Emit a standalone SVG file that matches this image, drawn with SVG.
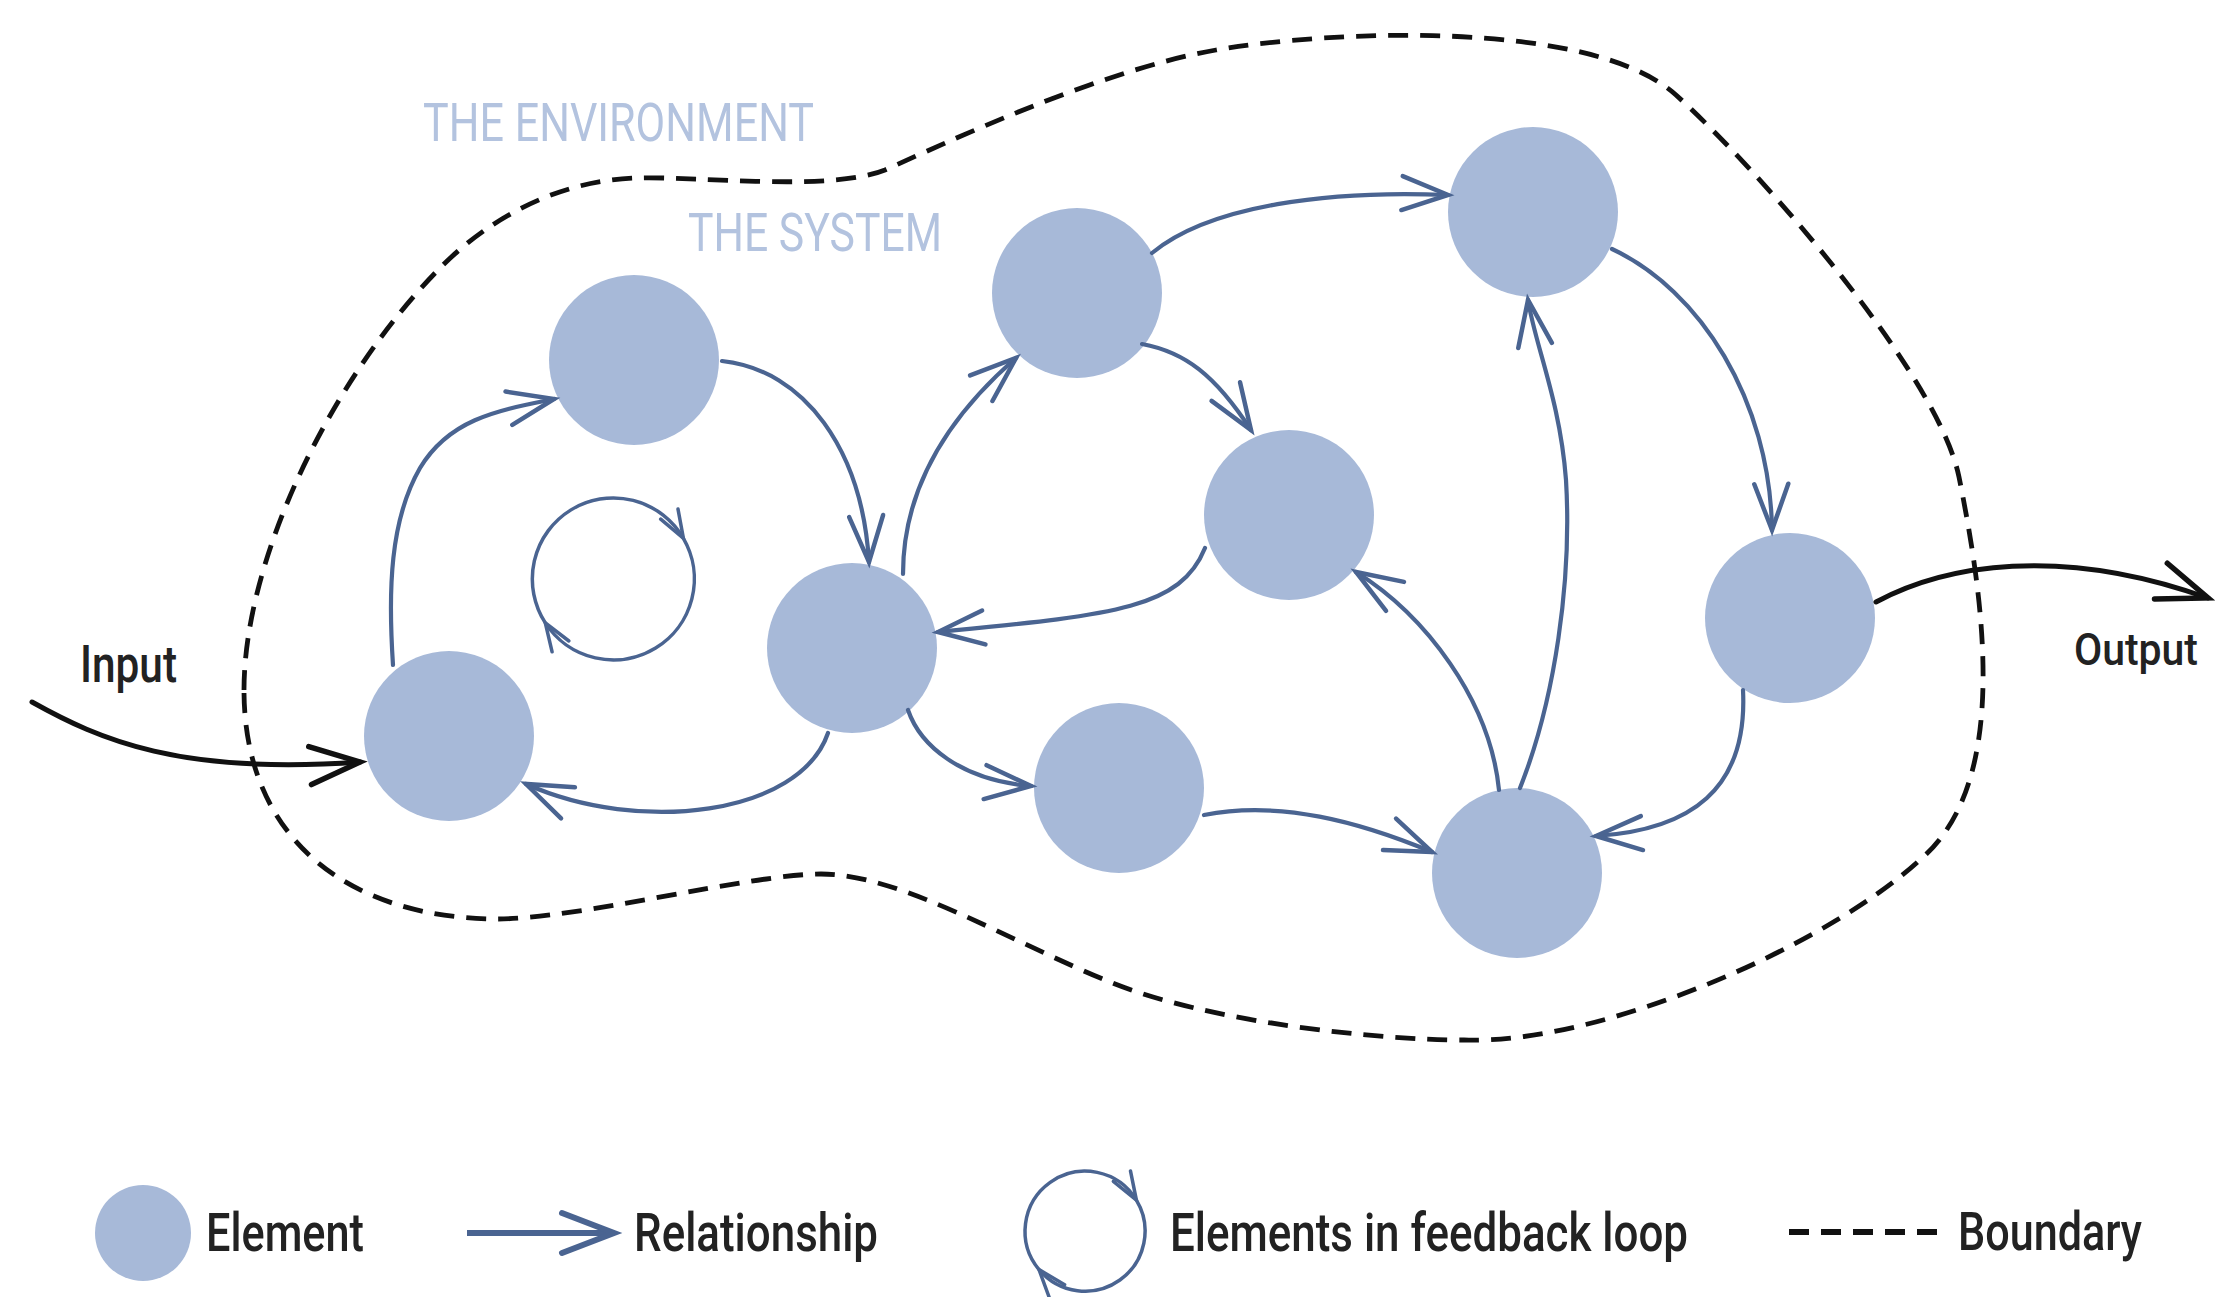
<svg xmlns="http://www.w3.org/2000/svg" width="2219" height="1297" viewBox="0 0 2219 1297">
<style>
.node{fill:#a7b9d8;}
.edge{fill:none;stroke:#4a6491;stroke-width:4.2;stroke-linecap:round;marker-end:url(#ah);}
.loop{fill:none;stroke:#4a6491;stroke-width:3.5;marker-end:url(#ahs);}
.io{fill:none;stroke:#111;stroke-width:5;stroke-linecap:round;marker-end:url(#ahk);}
.bnd{fill:none;stroke:#111;stroke-width:4.8;stroke-dasharray:20 12;}
.lbl{font-family:Roboto,"Liberation Sans",sans-serif;font-weight:500;fill:#222;}
.env{font-family:Roboto,"Liberation Sans",sans-serif;font-weight:400;fill:#b3c3df;font-size:54px;}
</style>
<defs>
<marker id="ah" viewBox="-60 -30 70 60" markerWidth="70" markerHeight="60" refX="0" refY="0" orient="auto" markerUnits="userSpaceOnUse">
<path d="M -46 -17 L 0 0 L -46 17" fill="none" stroke="#4a6491" stroke-width="4.5" stroke-linecap="round"/>
</marker>
<marker id="ahs" viewBox="-40 -20 50 40" markerWidth="50" markerHeight="40" refX="0" refY="0" orient="auto" markerUnits="userSpaceOnUse">
<path d="M -28 -10 L 0 0 L -28 10" fill="none" stroke="#4a6491" stroke-width="3.5" stroke-linecap="round"/>
</marker>
<marker id="ahl" viewBox="-60 -30 70 60" markerWidth="70" markerHeight="60" refX="0" refY="0" orient="auto" markerUnits="userSpaceOnUse">
<path d="M -52 -20 L 0 0 L -52 20" fill="none" stroke="#4a6491" stroke-width="6" stroke-linecap="round"/>
</marker>
<marker id="ahk" viewBox="-60 -30 70 60" markerWidth="70" markerHeight="60" refX="0" refY="0" orient="auto" markerUnits="userSpaceOnUse">
<path d="M -50 -19 L 0 0 L -50 19" fill="none" stroke="#111" stroke-width="5.5" stroke-linecap="round"/>
</marker>
</defs>
<rect x="0" y="0" width="2219" height="1297" fill="#ffffff"/>

<g id="boundary">
<path class="bnd" d="M 244 690 C 244 560, 330 380, 439 269 C 490 217, 560 180, 637 178 C 700 176, 830 192, 885 170 C 941 145, 1100 70, 1216 50 C 1332 30, 1592 19, 1676 95 C 1760 171, 1938 374, 1959 477 C 1984 601, 2010 780, 1923 857 C 1830 945, 1600 1045, 1464 1040 C 1380 1040, 1211 1023, 1110 982 C 1009 941, 900 874, 821 874 C 750 874, 580 919, 496 919 C 350 918, 244 840, 244 690 Z"/>
</g>

<g id="labels">
<text class="env" x="423" y="141" textLength="391" lengthAdjust="spacingAndGlyphs">THE ENVIRONMENT</text>
<text class="env" x="688" y="251" textLength="254" lengthAdjust="spacingAndGlyphs">THE SYSTEM</text>
<text class="lbl" x="80" y="682" font-size="52" textLength="97" lengthAdjust="spacingAndGlyphs">Input</text>
<text class="lbl" x="2198" y="665" font-size="44" text-anchor="end" textLength="124" lengthAdjust="spacingAndGlyphs">Output</text>
</g>

<g id="nodes">
<circle id="n1" class="node" cx="634" cy="360" r="85"/>
<circle id="n2" class="node" cx="449" cy="736" r="85"/>
<circle id="n3" class="node" cx="852" cy="648" r="85"/>
<circle id="n4" class="node" cx="1077" cy="293" r="85"/>
<circle id="n5" class="node" cx="1289" cy="515" r="85"/>
<circle id="n6" class="node" cx="1119" cy="788" r="85"/>
<circle id="n7" class="node" cx="1533" cy="212" r="85"/>
<circle id="n8" class="node" cx="1517" cy="873" r="85"/>
<circle id="n9" class="node" cx="1790" cy="618" r="85"/>
</g>

<g id="connectors">
<path class="edge" d="M 393 665 C 388 590, 390 520, 420 468 C 450 418, 500 410, 554 399"/>
<path class="edge" d="M 722 361 C 805 370, 862 450, 869 562"/>
<path class="edge" d="M 903 574 C 903 470, 970 398, 1016 358"/>
<path class="edge" d="M 828 733 C 800 815, 640 835, 526 784"/>
<path class="edge" d="M 1152 253 C 1210 205, 1330 190, 1448 195"/>
<path class="edge" d="M 1142 344 C 1185 352, 1215 375, 1251 430"/>
<path class="edge" d="M 1205 548 C 1180 610, 1110 615, 938 632"/>
<path class="edge" d="M 908 710 C 920 745, 960 780, 1031 786"/>
<path class="edge" d="M 1204 815 C 1280 800, 1360 822, 1432 852"/>
<path class="edge" d="M 1499 790 C 1490 700, 1425 615, 1356 572"/>
<path class="edge" d="M 1520 788 C 1555 700, 1572 580, 1566 480 C 1560 400, 1535 345, 1528 300"/>
<path class="edge" d="M 1612 249 C 1700 290, 1770 400, 1772 530"/>
<path class="edge" d="M 1743 690 C 1748 790, 1690 830, 1596 836"/>
<path class="loop" d="M 545.3 622.9 A 81 81 0 1 1 683.4 538.3"/>
<path class="loop" d="M 683.4 538.3 A 81 81 0 0 1 545.3 622.9"/>
<path class="io" d="M 32 702 C 100 740, 180 775, 360 762"/>
<path class="io" d="M 1876 602 C 1945 565, 2060 545, 2208 598"/>
</g>

<g id="legend">
<g id="legend-element">
<circle class="node" cx="143" cy="1233" r="48"/>
<text class="lbl" x="206" y="1251" font-size="54" textLength="158" lengthAdjust="spacingAndGlyphs">Element</text>
</g>
<g id="legend-relationship">
<line x1="467" y1="1233" x2="614" y2="1233" stroke="#4a6491" stroke-width="6" marker-end="url(#ahl)"/>
<text class="lbl" x="634" y="1251" font-size="54" textLength="244" lengthAdjust="spacingAndGlyphs">Relationship</text>
</g>
<g id="legend-loop">
<path class="loop" d="M 1039 1269.6 A 60 60 0 1 1 1136.4 1200.1"/>
<path class="loop" d="M 1136.4 1200.1 A 60 60 0 0 1 1039 1269.6"/>
<text class="lbl" x="1170" y="1251" font-size="54" textLength="518" lengthAdjust="spacingAndGlyphs">Elements in feedback loop</text>
</g>
<g id="legend-boundary">
<line x1="1789" y1="1232" x2="1937" y2="1232" stroke="#111" stroke-width="6" stroke-dasharray="20 12"/>
<text class="lbl" x="1958" y="1250" font-size="54" textLength="184" lengthAdjust="spacingAndGlyphs">Boundary</text>
</g>
</g>
</svg>
